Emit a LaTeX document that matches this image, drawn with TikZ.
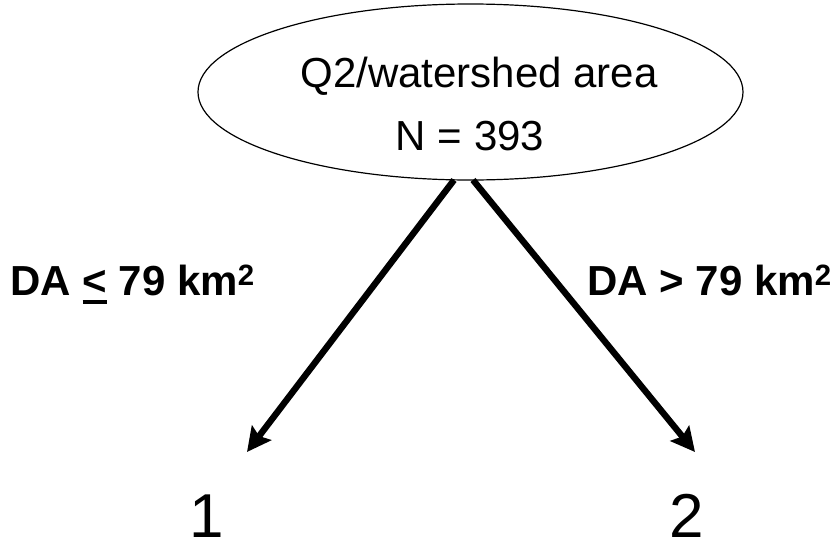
\documentclass[tikz,border=0pt]{standalone}
\usepackage{fontspec}
\setmainfont{Liberation Sans}
\usetikzlibrary{arrows.meta,shapes.geometric}

\tikzset{
  rootshape/.style={draw, ellipse, line width=1.2pt, minimum width=545pt, minimum height=176pt, inner sep=0pt, outer sep=0pt},
  roottext/.style={anchor=base, inner sep=0pt, font=\fontsize{42}{50}\selectfont},
  splitlabel/.style={anchor=base west, inner sep=0pt, font=\fontsize{42}{50}\selectfont\bfseries},
  leaf/.style={anchor=base, inner sep=0pt, font=\fontsize{62}{70}\selectfont},
  branch/.style={line width=6.4pt, -{Stealth[length=24pt, width=24pt, inset=4pt]}}
}

% "less than or equal" drawn as an underlined less-than sign
\newcommand{\uleq}{\rlap{\rule[-9pt]{24.5pt}{4pt}}<}

\begin{document}
\begin{tikzpicture}[x=1pt, y=-1pt]
  \useasboundingbox (0,0) rectangle (836,549);

  % root node of the tree
  \node[rootshape] (root) at (470.5,92) {};
  \node[roottext] (rootname) at (479,87) {Q2/watershed area};
  \node[roottext] (rootcount) at (470,150) {N = 393};

  % split conditions
  \node[splitlabel] (condleft) at (10,295) {DA \uleq{} 79 km\textsuperscript{2}};
  \node[splitlabel] (condright) at (587,295) {DA > 79 km\textsuperscript{2}};

  % terminal groups
  \node[leaf] (leafone) at (207,537) {1};
  \node[leaf] (leaftwo) at (687,537) {2};

  % branch ends just above the group numbers
  \coordinate (tipone) at (247,452);
  \coordinate (tiptwo) at (695,452);
  \coordinate (startone) at (454,180);
  \coordinate (starttwo) at (473,180);

  \draw[branch] (startone) -- (tipone);
  \draw[branch] (starttwo) -- (tiptwo);
\end{tikzpicture}
\end{document}
